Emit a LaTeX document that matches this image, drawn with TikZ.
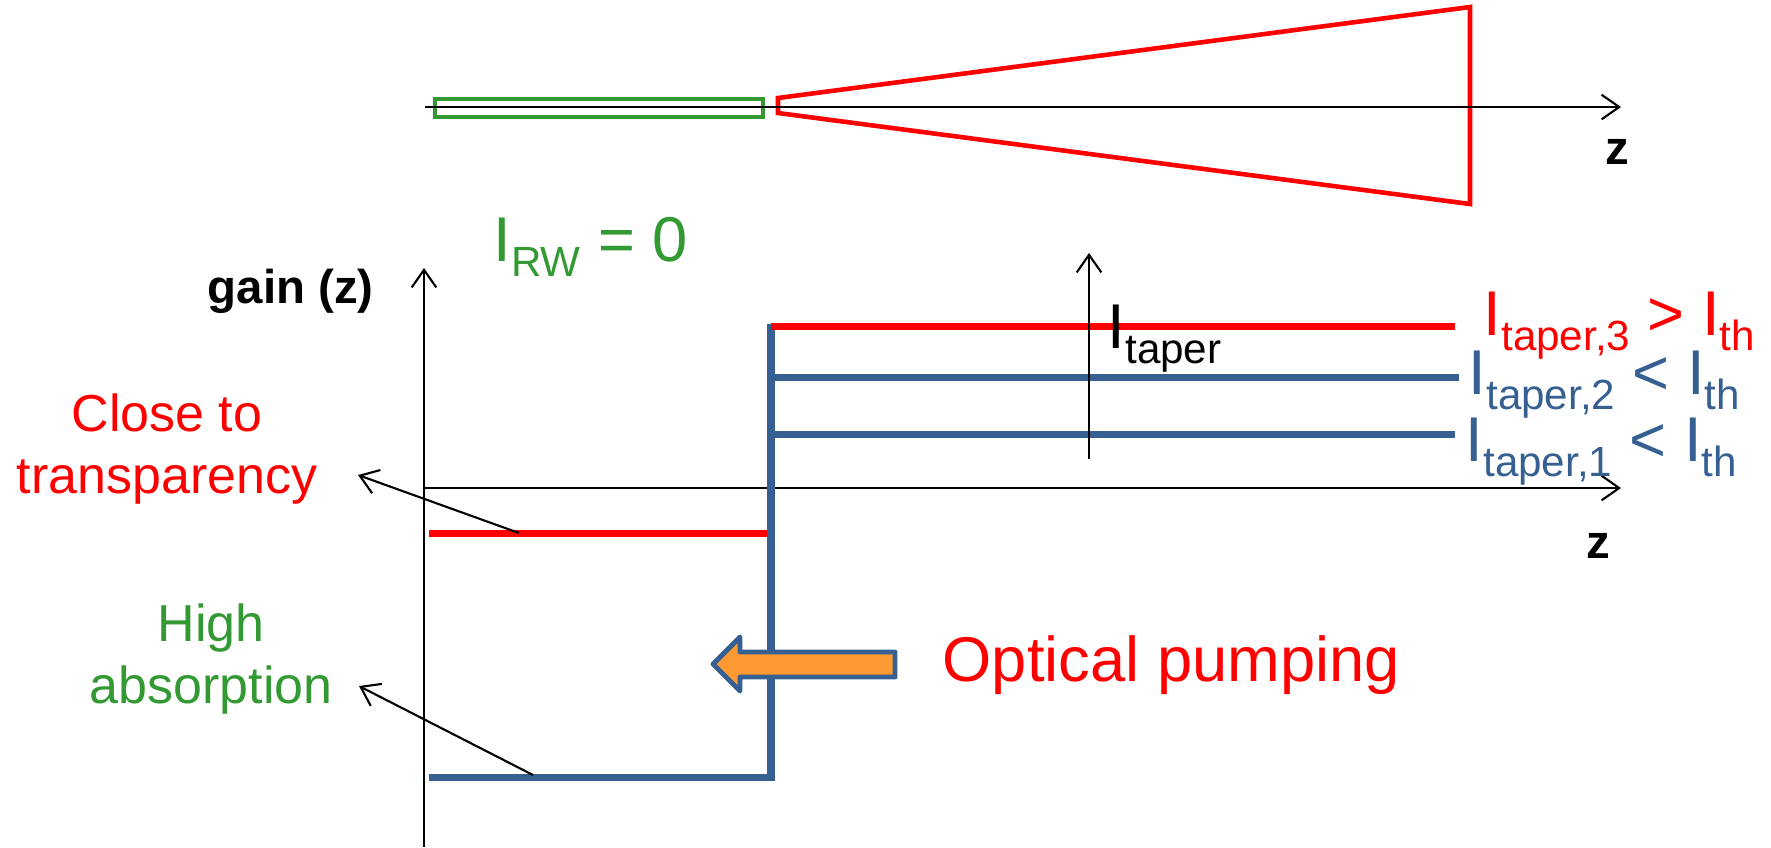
\documentclass[tikz,border=0pt]{standalone}
\usepackage{fontspec}
\setmainfont{Liberation Sans}
\usetikzlibrary{arrows.meta}
\definecolor{pred}{RGB}{255,0,0}
\definecolor{pgreen}{RGB}{51,153,51}
\definecolor{pblue}{RGB}{54,96,146}
\definecolor{porange}{RGB}{255,153,51}
\newcommand{\lsub}[1]{\raisebox{-0.24em}{\fontsize{12}{12}\selectfont #1}}
\begin{document}
\begin{tikzpicture}[x=0.1mm,y=-0.1mm,
  axis/.style={line width=0.6pt,-{Straight Barb[length=5pt,width=7pt]}},
  pointer/.style={line width=0.6pt,-{Straight Barb[length=5pt,width=7pt]}},
  level/.style={line width=2pt},
  txt/.style={inner sep=0pt,anchor=base west},
  ctr/.style={inner sep=0pt,anchor=base},
  big/.style={font=\fontsize{18}{21}\selectfont},
  mid/.style={font=\fontsize{14.8}{17.6}\selectfont},
  boldlab/.style={font=\fontsize{13.5}{16}\selectfont\bfseries}
]
\useasboundingbox (0,0) rectangle (1771,847);

% ---------- top: ridge + taper ----------
\draw[pgreen,line width=1.2pt] (435,99) rectangle (763,117);
\draw[pred,line width=1.3pt,line join=miter] (778,98) -- (1470,7) -- (1470,204) -- (778,113) -- cycle;
\coordinate (ta0) at (425,107);
\coordinate (ta1) at (1621,107);
\draw[axis] (ta0) -- (ta1);
\node[boldlab,ctr] (ztop) at (1617,164) {z};

\node[txt,big,text=pgreen] (irw) at (493,261) {I\lsub{RW} = 0};

% ---------- bottom: gain plot ----------
\coordinate (g0) at (424,847);
\coordinate (g1) at (424,268);
\coordinate (z0) at (424,488);
\coordinate (z1) at (1621,488);
\draw[axis] (g0) -- (g1);
\draw[axis] (z0) -- (z1);
\node[txt,boldlab] (gain) at (207,303) {gain (z)};
\node[boldlab,ctr] (zbot) at (1598,558) {z};

% levels
\coordinate (rl0) at (429,533);
\coordinate (rl1) at (771,533);
\draw[pred,level] (rl0) -- (rl1);

\coordinate (bl0) at (429,777);
\coordinate (bl1) at (771,777);
\coordinate (bl2) at (771,324);
\draw[pblue,level,line join=miter] (bl0) -- (bl1) -- (bl2);

\coordinate (t1a) at (771,434);
\coordinate (t1b) at (1455,434);
\coordinate (t2a) at (771,377);
\coordinate (t2b) at (1459,377);
\coordinate (t3a) at (771,326);
\coordinate (t3b) at (1455,326);
\draw[pblue,level] (t1a) -- (t1b);
\draw[pblue,level] (t2a) -- (t2b);
\draw[pred,level] (t3a) -- (t3b);

% I_taper arrow
\coordinate (ia0) at (1089,459);
\coordinate (ia1) at (1089,253);
\draw[pointer] (ia0) -- (ia1);
\node[txt,big] (itaper) at (1107,348) {I\lsub{taper}};

% right labels
\node[txt,big,text=pred] (l3) at (1483,335) {I\lsub{taper,3} > I\lsub{th}};
\node[txt,big,text=pblue] (l2) at (1468,394) {I\lsub{taper,2} < I\lsub{th}};
\node[txt,big,text=pblue] (l1) at (1465,461) {I\lsub{taper,1} < I\lsub{th}};

% left labels
\node[mid,ctr,text=pred] (close1) at (167,431) {Close to};
\node[mid,ctr,text=pred] (close2) at (167,493) {transparency};
\node[mid,ctr,text=pgreen] (high1) at (211,641) {High};
\node[mid,ctr,text=pgreen] (high2) at (211,703) {absorption};

\coordinate (pc0) at (519,533);
\coordinate (pc1) at (358,475);
\draw[pointer] (pc0) -- (pc1);
\coordinate (ph0) at (533,775);
\coordinate (ph1) at (359,686);
\draw[pointer] (ph0) -- (ph1);

% optical pumping arrow
\draw[pblue,fill=porange,line width=1.4pt,line join=round]
  (895,652) -- (740,652) -- (740,637) -- (713,664) -- (740,691) -- (740,677) -- (895,677) -- cycle;
\node[txt,big,text=pred] (pump) at (942,681) {Optical pumping};
\end{tikzpicture}
\end{document}
